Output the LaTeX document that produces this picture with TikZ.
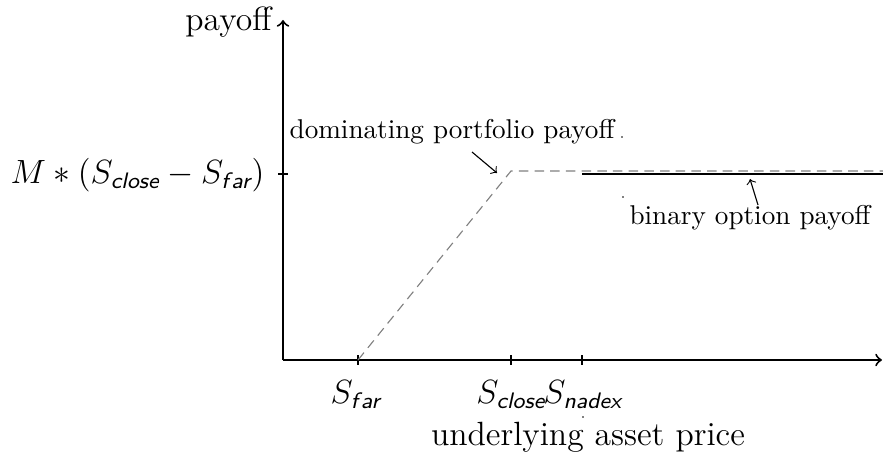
\documentclass[tikz,border=0pt]{standalone}
\usepackage{amsmath}
\newcommand{\sub}[1]{\textsf{\itshape #1}}
\tikzset{
  axis/.style={line width=0.7pt,->},
  tickmark/.style={line width=0.4pt},
  domline/.style={gray,dashed,dash pattern=on 3.4pt off 2.2pt,line width=0.4pt},
  binline/.style={line width=1pt},
  lbl/.style={inner sep=0pt},
  annot/.style={inner sep=0pt,font=\fontsize{9.7}{11.6}\selectfont},
  pointer/.style={->,line width=0.4pt},
  dotmark/.style={fill=black,inner sep=0pt,minimum size=0.6pt,circle}
}
\begin{document}
\begin{tikzpicture}[x=0.357pt,y=-0.357pt]
\useasboundingbox (0,0) rectangle (883,456);
% axes
\coordinate (O) at (283,360);
\coordinate (ytop) at (283,20);
\coordinate (xend) at (882,360);
\draw[axis] (O) -- (ytop);
\draw[axis] (O) -- (xend);
\node[anchor=east,lbl] (ylab) at (272,22) {\large payoff};
% y tick
\coordinate (yt1) at (278,174);
\coordinate (yt2) at (288,174);
\draw[tickmark] (yt1) -- (yt2);
\node[anchor=east,lbl] (ytlab) at (265,175) {\large $M * (S_{\sub{close}} - S_{\sub{f\kern0.12em ar}})$};
% x ticks
\foreach \n/\x in {far/358,close/511,nadex/582}{
  \coordinate (t\n a) at (\x,355);
  \coordinate (t\n b) at (\x,365);
  \draw[tickmark] (t\n a) -- (t\n b);
}
\node[lbl] (lfar) at (356,395) {\large $S_{\sub{f\kern0.12em ar}}$};
\node[lbl] (lclose) at (511,395) {\large $S_{\sub{close}}$};
\node[lbl] (lnadex) at (583,395) {\large $S_{\sub{nadex}}$};
\node[dotmark] (d3) at (583,417) {};
\node[lbl] (xlab) at (588,437) {\large underlying asset price};
% payoffs
\coordinate (p0) at (358,360);
\coordinate (p1) at (511,171);
\coordinate (p2) at (883,171);
\draw[domline] (p0) -- (p1) -- (p2);
\coordinate (b0) at (582,174);
\coordinate (b1) at (883,174);
\draw[binline] (b0) -- (b1);
% labels
\node[annot] (dlab) at (452,132) {dominating portfolio payoff};
\node[dotmark] (d1) at (622,137) {};
\coordinate (da) at (472,152);
\coordinate (db) at (497,173);
\draw[pointer] (da) -- (db);
\node[annot] (blab) at (750,218) {binary option payoff};
\node[dotmark] (d2) at (623,197) {};
\coordinate (ba) at (758,205);
\coordinate (bb) at (750,179);
\draw[pointer] (ba) -- (bb);
\end{tikzpicture}
\end{document}
